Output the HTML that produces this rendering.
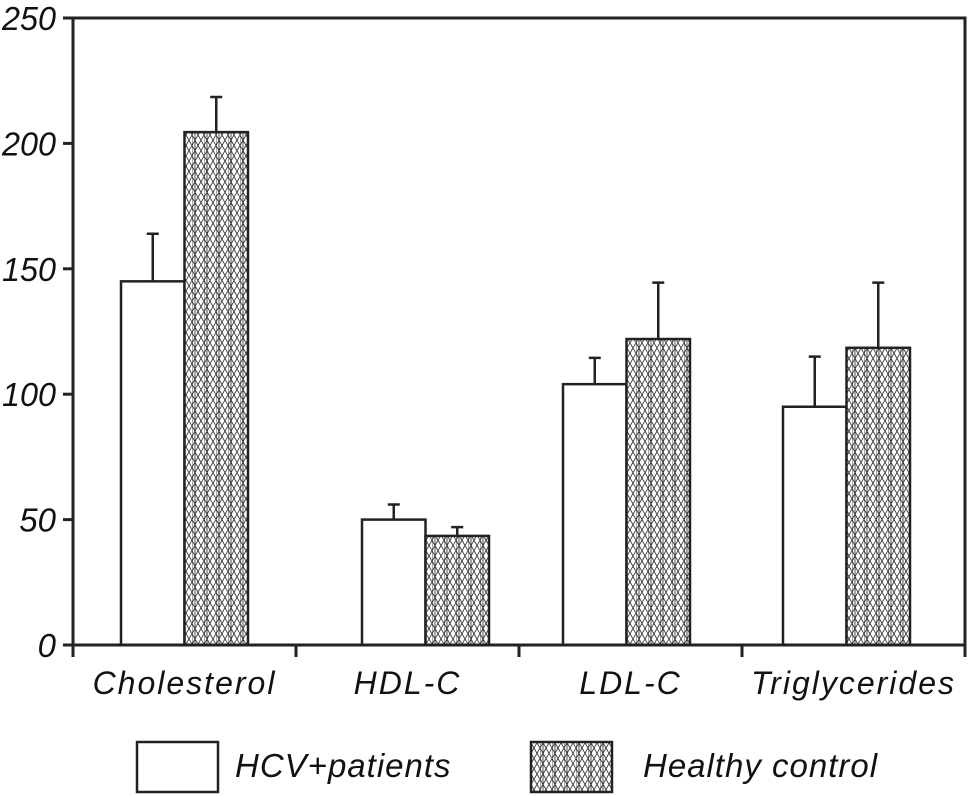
<!DOCTYPE html>
<html><head><meta charset="utf-8"><style>
body{margin:0;background:#fff}
svg{display:block}
text{font-family:"Liberation Sans",sans-serif;font-style:italic;fill:#111}
</style></head><body>
<svg id="chart" width="968" height="796" viewBox="0 0 968 796" xmlns="http://www.w3.org/2000/svg">
<defs>
<pattern id="hatch" width="12" height="20.78" patternUnits="userSpaceOnUse">
<rect width="12" height="20.78" fill="#fff"/>
<g stroke="#222" stroke-width="0.8">
<line x1="0" y1="0" x2="0" y2="20.78"/><line x1="3" y1="0" x2="3" y2="20.78"/>
<line x1="0" y1="0" x2="12" y2="20.78"/><line x1="12" y1="0" x2="0" y2="20.78"/>
<line x1="-6" y1="0" x2="6" y2="20.78"/><line x1="6" y1="0" x2="18" y2="20.78"/>
<line x1="6" y1="0" x2="-6" y2="20.78"/><line x1="18" y1="0" x2="6" y2="20.78"/>
</g>
</pattern>
</defs>
<g id="plot"></g>
</svg>
<script>
const categories=["Cholesterol","HDL-C","LDL-C","Triglycerides"];
const hcvValues=[145,50,104,95];
const hcvErrors=[164,56,114.5,115];
const ctrlValues=[204.5,43.5,122,118.5];
const ctrlErrors=[218.5,47,144.5,144.5];
const yTicks=[0,50,100,150,200,250];

const NS="http://www.w3.org/2000/svg";
const g=document.getElementById("plot");
const X0=73,X1=965,Y0=645,Y1=18,YMAX=250;
const y=v=>Y0-(Y0-Y1)*v/YMAX;
const band=(X1-X0)/categories.length;
const bx=i=>X0+band*i;
const groupShift=[0,18,-4,-7]; // layout offset of each bar pair within its band
function mk(tag,attrs){const e=document.createElementNS(NS,tag);for(const k in attrs)e.setAttribute(k,attrs[k]);g.appendChild(e);return e;}

categories.forEach((c,i)=>{
  const w=63.5;
  const cx=bx(i)+band/2+groupShift[i];
  const l=cx-w;
  const r1=mk("rect",{x:l,y:y(hcvValues[i]),width:w,height:Y0-y(hcvValues[i]),fill:"#fff",stroke:"#222","stroke-width":2.5});
  
  
  const e1=mk("path",{d:`M${l+w/2},${y(hcvValues[i])}V${y(hcvErrors[i])}M${l+w/2-6},${y(hcvErrors[i])}H${l+w/2+6}`,stroke:"#222","stroke-width":2.5,fill:"none"});
  
  
  const l2=cx;
  const r2=mk("rect",{x:l2,y:y(ctrlValues[i]),width:w,height:Y0-y(ctrlValues[i]),fill:"url(#hatch)",stroke:"#222","stroke-width":2.5});
  
  
  const e2=mk("path",{d:`M${l2+w/2},${y(ctrlValues[i])}V${y(ctrlErrors[i])}M${l2+w/2-6},${y(ctrlErrors[i])}H${l2+w/2+6}`,stroke:"#222","stroke-width":2.5,fill:"none"});
  
  
  const t=mk("text",{x:bx(i)+band/2,y:694,"font-size":32,"text-anchor":"middle","letter-spacing":"2"});
  t.textContent=c;
  
  
});
const ax=mk("path",{d:`M${X0},${Y1}V${Y0+12}M${X0},${Y0}H${X1}M${X0-10},${Y1}H${X1}V${Y0+12}`,stroke:"#222","stroke-width":3,fill:"none"});


for(let i=1;i<categories.length;i++){
  const tk=mk("line",{x1:bx(i),x2:bx(i),y1:Y0,y2:Y0+12,stroke:"#222","stroke-width":3});
  
  
}
yTicks.forEach(v=>{
  const tk=mk("line",{x1:X0-10,x2:X0,y1:y(v),y2:y(v),stroke:"#222","stroke-width":3});
  
  
  const t=mk("text",{x:56,y:y(v)+12,"font-size":33,"text-anchor":"end",textLength:"",}); 
  t.removeAttribute('textLength');
  t.textContent=v;
  if(String(v).length===3){t.setAttribute('textLength','54');t.setAttribute('lengthAdjust','spacingAndGlyphs');}
  
  
});
const lb1=mk("rect",{x:137,y:742,width:81,height:50,fill:"#fff",stroke:"#222","stroke-width":2.5});


const lt1=mk("text",{x:235,y:777,"font-size":33,"letter-spacing":"1"});
lt1.textContent="HCV+patients";


const lb2=mk("rect",{x:531,y:742,width:81,height:50,fill:"url(#hatch)",stroke:"#222","stroke-width":2.5});


const lt2=mk("text",{x:643,y:777,"font-size":33,"letter-spacing":"1"});
lt2.textContent="Healthy control";


</script>
</body></html>
